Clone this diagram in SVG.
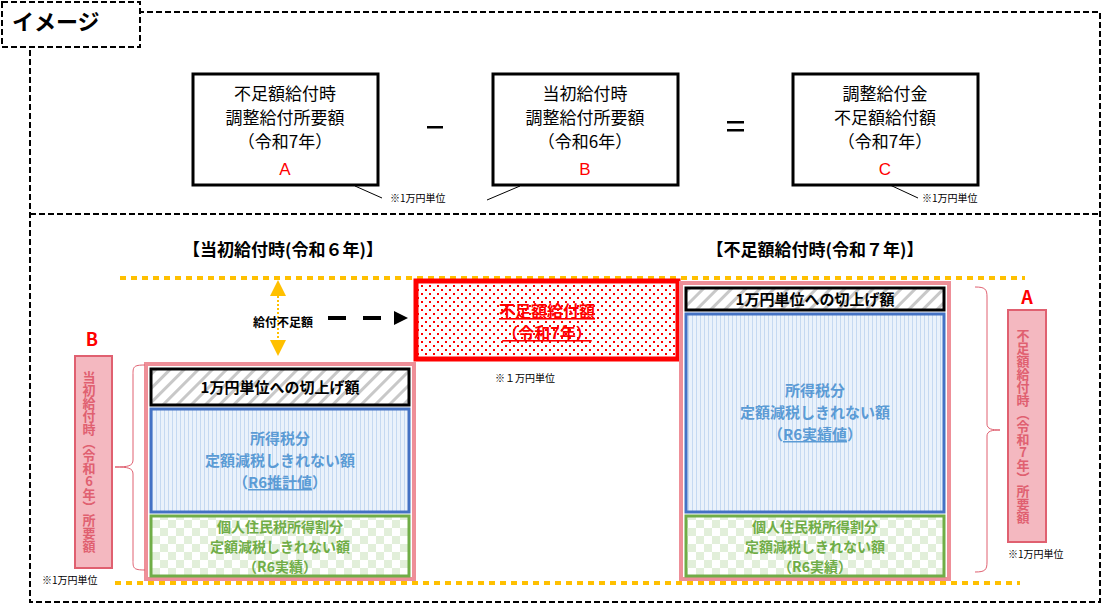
<svg xmlns="http://www.w3.org/2000/svg" width="1116" height="605" viewBox="0 0 1116 605">
<style>
text{font-family:"Noto Sans CJK JP","Liberation Sans",sans-serif}
.dash{fill:none;stroke:#000;stroke-width:2;stroke-dasharray:6,3}
.box{fill:#fff;stroke:#000;stroke-width:3}
.bt{font-size:17px;text-anchor:middle;fill:#000}
.red{fill:#f00;font-size:17px;text-anchor:middle;font-family:"Liberation Sans",sans-serif}
.note{font-size:10px;fill:#000}
.hdr{font-size:17px;font-weight:bold;text-anchor:middle}
.yel{stroke:#FFC000;stroke-width:4;stroke-dasharray:6,5;fill:none}
.pink{fill:none;stroke:#EE8F98;stroke-width:4}
.blk{fill:url(#hatch);stroke:#000;stroke-width:3}
.blu{fill:url(#stripe);stroke:#4472C4;stroke-width:3}
.grn{fill:url(#check);stroke:#70AD47;stroke-width:3}
.bluet{fill:#5B9BD5;font-weight:bold;font-size:15px;text-anchor:middle}
.grnt{fill:#70AD47;font-weight:bold;font-size:14px;text-anchor:middle}
.blkt{font-weight:bold;font-size:15px;text-anchor:middle}
.lab{fill:#F4B8C0;stroke:#E06070;stroke-width:2}
.vt{writing-mode:vertical-rl;text-orientation:upright;fill:#E06070;font-weight:bold;font-size:13px;text-anchor:middle}
.brace{fill:none;stroke:#E06070;stroke-width:1}
</style>
<defs>
<pattern id="hatch" width="10" height="10" patternUnits="userSpaceOnUse" patternTransform="rotate(45)"><rect width="10" height="10" fill="#fff"/><rect width="3" height="10" fill="#c8c8c8"/></pattern>
<pattern id="stripe" width="4" height="4" patternUnits="userSpaceOnUse"><rect width="4" height="4" fill="#EAF2FB"/><rect width="1" height="4" fill="#C5D9F1"/></pattern>
<pattern id="check" width="16" height="16" patternUnits="userSpaceOnUse"><rect width="16" height="16" fill="#fff"/><rect width="8" height="8" fill="#E2EFDA"/><rect x="8" y="8" width="8" height="8" fill="#E2EFDA"/></pattern>
<pattern id="dots" width="8" height="8" patternUnits="userSpaceOnUse"><rect width="8" height="8" fill="#fff"/><rect x="1" y="1" width="2" height="2" fill="#f00"/><rect x="5" y="5" width="2" height="2" fill="#f00"/></pattern>
<marker id="tri" markerWidth="14" markerHeight="14" refX="2" refY="7" orient="auto" markerUnits="userSpaceOnUse"><path d="M0,0L14,7L0,14z" fill="#000"/></marker>
</defs>
<rect class="dash" x="30" y="12" width="1070" height="590"/>
<line class="dash" x1="30" y1="214" x2="1100" y2="214"/>
<g id="tab"><rect x="2" y="2" width="138" height="45" fill="#fff" stroke="#000" stroke-width="2" stroke-dasharray="6,3"/><text x="12" y="30" font-size="22" font-weight="bold">イメージ</text></g>
<g id="boxA"><rect class="box" x="193" y="74" width="185" height="111"/><text class="bt" x="285" y="100">不足額給付時</text><text class="bt" x="285" y="124">調整給付所要額</text><text class="bt" x="285" y="148">（令和7年）</text><text class="red" x="285" y="175">A</text></g>
<g id="boxB"><rect class="box" x="493" y="74" width="185" height="111"/><text class="bt" x="585" y="100">当初給付時</text><text class="bt" x="585" y="124">調整給付所要額</text><text class="bt" x="585" y="148">（令和6年）</text><text class="red" x="585" y="175">B</text></g>
<g id="boxC"><rect class="box" x="793" y="74" width="185" height="111"/><text class="bt" x="885" y="100">調整給付金</text><text class="bt" x="885" y="124">不足額給付額</text><text class="bt" x="885" y="148">（令和7年）</text><text class="red" x="885" y="175">C</text></g>
<rect x="427" y="126" width="16" height="2.5" fill="#000"/>
<rect x="727" y="121" width="17" height="2.5" fill="#000"/><rect x="727" y="129" width="17" height="2.5" fill="#000"/>
<g stroke="#000" stroke-width="1"><line x1="355" y1="186" x2="382" y2="198"/><line x1="520" y1="186" x2="487" y2="200"/><line x1="890" y1="185" x2="918" y2="198"/></g>
<text class="note" x="390" y="202">※1万円単位</text>
<text class="note" x="922" y="202">※1万円単位</text>
<text class="hdr" x="283" y="256">【当初給付時(令和６年)】</text>
<text class="hdr" x="815" y="256">【不足額給付時(令和７年)】</text>
<line class="yel" x1="120" y1="278" x2="1025" y2="278"/>
<line class="yel" x1="115" y1="583" x2="1020" y2="583"/>
<g id="left">
<rect class="pink" x="146" y="364" width="268" height="215"/>
<rect class="blk" x="151" y="369" width="258" height="36"/>
<text class="blkt" x="280" y="393">1万円単位への切上げ額</text>
<rect class="blu" x="151" y="409" width="258" height="103"/>
<text class="bluet" x="280" y="444">所得税分</text><text class="bluet" x="280" y="466">定額減税しきれない額</text><text class="bluet" x="280" y="488">（<tspan text-decoration="underline">R6推計値</tspan>）</text>
<rect class="grn" x="151" y="516" width="258" height="60"/>
<text class="grnt" x="280" y="532">個人住民税所得割分</text><text class="grnt" x="280" y="552">定額減税しきれない額</text><text class="grnt" x="280" y="572">（R6実績）</text>
</g>
<g id="labB"><rect class="lab" x="75" y="356" width="37" height="212"/><text class="vt" x="89" y="462">当初給付時（令和6年）所要額</text><text x="92" y="346" fill="#f00" font-size="18" font-weight="bold" text-anchor="middle" font-family="Liberation Sans,sans-serif">B</text></g>
<path class="brace" d="M145,365 C133,365 133,367 133,375 L133,460 C133,466 128,467 115,467 C128,467 133,468 133,474 L133,560 C133,568 133,570 145,570"/>
<text class="note" x="42" y="584">※1万円単位</text>
<g id="connectors">
<line x1="278" y1="292" x2="278" y2="342" stroke="#FFC000" stroke-width="2" stroke-dasharray="2,2"/>
<path d="M278,280 L270,296 L286,296z M278,356 L270,340 L286,340z" fill="#FFC000"/>
<line x1="328" y1="318" x2="396" y2="318" stroke="#000" stroke-width="4" stroke-dasharray="18,17" marker-end="url(#tri)"/>
</g>
<text x="283" y="327" font-size="12" font-weight="bold" text-anchor="middle">給付不足額</text>
<g id="redbox"><rect x="416" y="281" width="262" height="78" fill="url(#dots)" stroke="#f00" stroke-width="5"/>
<text x="547" y="317" fill="#f00" font-size="16" font-weight="bold" text-anchor="middle" text-decoration="underline">不足額給付額</text>
<text x="547" y="339" fill="#f00" font-size="16" font-weight="bold" text-anchor="middle" text-decoration="underline">（令和7年）</text></g>
<text class="note" x="495" y="382" font-size="11">※１万円単位</text>
<g id="right">
<rect class="pink" x="681" y="283" width="268" height="296"/>
<rect class="blk" x="686" y="288" width="258" height="22"/>
<text class="blkt" x="815" y="305">1万円単位への切上げ額</text>
<rect class="blu" x="686" y="314" width="258" height="198"/>
<text class="bluet" x="815" y="396">所得税分</text><text class="bluet" x="815" y="418">定額減税しきれない額</text><text class="bluet" x="815" y="440">（<tspan text-decoration="underline">R6実績値</tspan>）</text>
<rect class="grn" x="686" y="516" width="258" height="60"/>
<text class="grnt" x="815" y="532">個人住民税所得割分</text><text class="grnt" x="815" y="552">定額減税しきれない額</text><text class="grnt" x="815" y="572">（R6実績）</text>
</g>
<path class="brace" d="M975,287 C985,287 987,289 987,297 L987,424 C987,429 992,430 1000,430 C992,430 987,431 987,436 L987,562 C987,570 985,572 975,572"/>
<g id="labA"><rect class="lab" x="1008" y="310" width="38" height="232"/><text class="vt" x="1023" y="426">不足額給付時（令和7年）所要額</text><text x="1027" y="304" fill="#f00" font-size="18" font-weight="bold" text-anchor="middle" font-family="Liberation Sans,sans-serif">A</text></g>
<text class="note" x="1008" y="558">※1万円単位</text>
</svg>
